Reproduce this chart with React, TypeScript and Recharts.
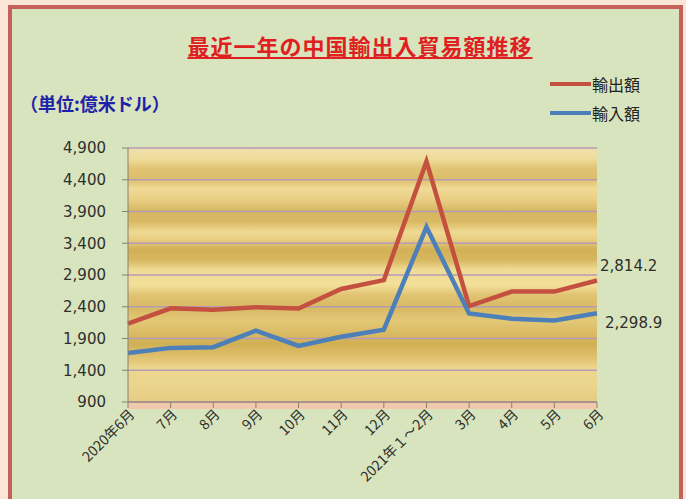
import { LineChart, Line, XAxis, YAxis, CartesianGrid, LabelList } from 'recharts';

const months = ['2020年6月', '7月', '8月', '9月', '10月', '11月', '12月', '2021年１～2月', '3月', '4月', '5月', '6月'];
const exportValues = [2135.7, 2375.8, 2352.3, 2392.3, 2371.1, 2680.7, 2819.0, 4688.6, 2411.3, 2639.2, 2639.3, 2814.2];
const importValues = [1671.4, 1752.3, 1763.3, 2024.7, 1784.3, 1926.5, 2038.3, 3655.7, 2295.1, 2211.1, 2184.7, 2298.9];
const yTicks = [900, 1400, 1900, 2400, 2900, 3400, 3900, 4400, 4900];

const series = [
  { key: 'exports', name: '輸出額', color: '#c4503f', labelDx: 3, labelDy: -15 },
  { key: 'imports', name: '輸入額', color: '#4d7fb8', labelDx: 8, labelDy: 10 },
];

const data = months.map((m, i) => ({ month: m, exports: exportValues[i], imports: importValues[i] }));

const numFont = '"DejaVu Sans", Verdana, sans-serif';
const jpFont = '"Noto Sans CJK JP", "DejaVu Sans", sans-serif';

// gold texture-ish horizontal bands
const bands: [number, string][] = [
  [0, '#efdfae'], [0.04, '#f0dd9c'], [0.08, '#e0c474'], [0.12, '#dcbd6a'], [0.16, '#f0da96'],
  [0.2, '#eacf86'], [0.25, '#d6b660'], [0.29, '#d9b964'], [0.33, '#efd992'], [0.36, '#e9ce82'],
  [0.4, '#d2b056'], [0.44, '#d7b75f'], [0.48, '#f0db96'], [0.54, '#f2df98'], [0.58, '#e0c372'],
  [0.63, '#d8b964'], [0.68, '#e3c876'], [0.72, '#dcbd68'], [0.77, '#d1af54'], [0.82, '#debf6c'],
  [0.87, '#edd790'], [0.93, '#ebd48e'], [1, '#e6cc84'],
];

function MonthTick({ x, y, payload }: any) {
  const ax = x + 4;
  const ay = y + 2;
  return (
    <text
      x={ax}
      y={ay}
      dy="0.35em"
      transform={`rotate(-45 ${ax} ${ay})`}
      textAnchor="end"
      fill="#2e2e2e"
      fontSize={14}
      fontFamily={jpFont}
    >
      {payload.value}
    </text>
  );
}

const endLabel = (dx: number, dy: number, last: number) => (props: any) => {
  if (props.index !== months.length - 1 && props.value !== last) return null;
  return (
    <text x={props.x + dx} y={props.y + dy} dy="0.35em" fill="#2e2e2e" fontSize={15} fontFamily={numFont}>
      {Number(props.value).toLocaleString('en-US', { minimumFractionDigits: 1 })}
    </text>
  );
};

export default function App() {
  return (
    <div style={{ position: 'relative', width: 686, height: 499, overflow: 'hidden', background: '#fbe6d6' }}>
      <style>{'body{margin:0}'}</style>
      <div
        style={{
          position: 'absolute', left: 8, top: 5, width: 675, height: 520, boxSizing: 'border-box',
          border: '4px solid #c4615a', background: '#d8e4bd',
        }}
      />
      <div style={{ position: 'absolute', left: 128, top: 402, width: 469, height: 7, background: '#f1c9aa' }} />
      <div
        style={{
          position: 'absolute', left: 150, width: 420, top: 32, textAlign: 'center', color: '#e02020',
          fontFamily: jpFont, fontWeight: 700, fontSize: 22, letterSpacing: 1, textDecoration: 'underline',
          lineHeight: '26px',
        }}
      >
        最近一年の中国輸出入貿易額推移
      </div>
      <div
        style={{
          position: 'absolute', left: 20, top: 91, color: '#1f22a8', fontFamily: jpFont, fontWeight: 700,
          fontSize: 18, lineHeight: '24px',
        }}
      >
        （単位:億米ドル）
      </div>
      {series.map((s, i) => (
        <div
          key={s.key}
          style={{ position: 'absolute', left: 550, top: 73 + i * 29, display: 'flex', alignItems: 'center', height: 22 }}
        >
          <div style={{ width: 41, height: 4, background: s.color }} />
          <span style={{ fontFamily: jpFont, fontSize: 16, color: '#222', marginLeft: 1 }}>{s.name}</span>
        </div>
      ))}
      <div style={{ position: 'absolute', left: 0, top: 0 }}>
        <LineChart width={686} height={499} data={data} margin={{ top: 148, right: 89, bottom: 0, left: 0 }}>
          <defs>
            <linearGradient id="goldBands" x1="0" y1="0" x2="0" y2="1">
              {bands.map(([o, c]) => (
                <stop key={o} offset={o} stopColor={c} />
              ))}
            </linearGradient>
          </defs>
          <CartesianGrid vertical={false} stroke="#b59cb6" strokeWidth={1.5} fill="url(#goldBands)" fillOpacity={1} />
          <XAxis
            dataKey="month"
            interval={0}
            height={97}
            tickSize={6}
            tick={<MonthTick />}
            stroke="#8a8070"
          />
          <YAxis
            domain={[900, 4900]}
            ticks={yTicks}
            width={128}
            tickSize={6}
            tickMargin={16}
            stroke="#8a8070"
            tickFormatter={(v: number) => v.toLocaleString('en-US')}
            tick={{ fill: '#2e2e2e', fontSize: 15, fontFamily: numFont }}
          />
          {series.map((s) => (
            <Line
              key={s.key}
              dataKey={s.key}
              name={s.name}
              type="linear"
              stroke={s.color}
              strokeWidth={4.5}
              dot={false}
              isAnimationActive={false}
            >
              <LabelList
                dataKey={s.key}
                content={endLabel(s.labelDx, s.labelDy, s.key === 'exports' ? exportValues[11] : importValues[11])}
              />
            </Line>
          ))}
        </LineChart>
      </div>
    </div>
  );
}
